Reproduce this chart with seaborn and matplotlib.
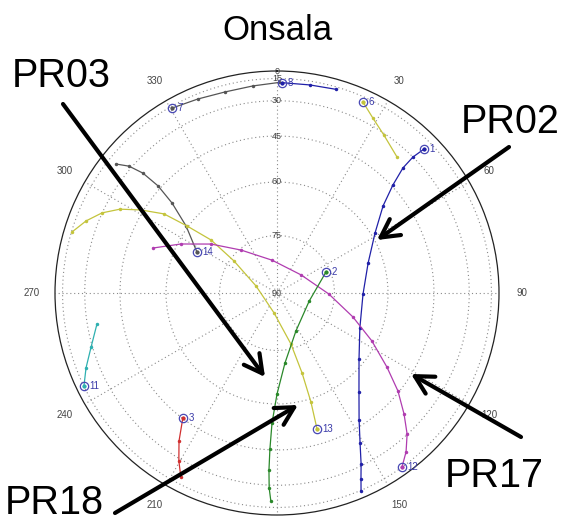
import numpy as np
import pandas as pd
import matplotlib
matplotlib.use("Agg")
import matplotlib.pyplot as plt
import seaborn as sns

sns.set_style("white")
plt.rcParams["font.family"] = ["Liberation Sans", "DejaVu Sans"]

# Satellite tracks (azimuth, elevation in degrees); the first point of each
# track is the one carrying the satellite number.
sat_ids = ["8", "7", "6", "1", "14", "13", "12", "2", "11", "3"]

az_8 = [1.3, 9.0, 16.2]
el_8 = [18.6, 18.4, 17.2]

az_7 = [330.4, 337.8, 345.5, 353.4, 0.5]
el_7 = [16.7, 19.3, 20.7, 20.1, 18.5]

az_6 = [24.2, 28.7, 34.1, 41.4]
el_6 = [19.3, 26.0, 30.8, 35.2]

az_1 = [45.6, 45.0, 45.2, 47.0, 50.6, 58.5, 71.8, 90.7, 112.9, 128.8,
        140.4, 147.1, 151.0, 153.8, 155.7, 157.0]
el_1 = [22.0, 30.0, 36.9, 44.4, 51.8, 58.8, 64.4, 67.2, 66.1, 61.7,
        54.6, 47.1, 39.5, 30.9, 23.2, 14.3]

az_14 = [297.1, 306.4, 310.6, 312.0, 311.8, 310.6, 308.7]
el_14 = [66.1, 59.4, 51.5, 43.9, 35.9, 28.6, 21.7]

az_13 = [163.6, 162.7, 162.6, 164.7, 188.5, 288.4, 306.7, 308.8, 306.7,
         305.0, 301.4, 298.1, 294.6, 290.7, 286.6]
el_13 = [50.3, 59.1, 67.8, 76.2, 84.8, 84.3, 76.0, 67.6, 59.7,
         51.6, 44.1, 36.7, 29.9, 23.2, 15.6]

az_12 = [144.3, 140.9, 137.3, 133.6, 129.0, 124.0, 116.8, 107.5, 91.1,
         53.1, 351.4, 320.1, 306.6, 297.0, 289.9]
el_12 = [15.2, 22.8, 30.2, 37.8, 45.5, 53.3, 61.4, 69.0, 76.5,
         82.2, 81.4, 75.4, 68.3, 60.9, 53.5]

az_2 = [66.8, 104.0, 153.4, 173.5, 180.0, 182.2, 182.6, 182.6, 182.3, 181.7]
el_2 = [76.1, 81.4, 79.0, 71.5, 62.9, 54.1, 45.3, 37.0, 28.5, 20.4]

az_11 = [244.3, 248.6, 253.8, 260.2]
el_11 = [15.2, 22.5, 29.3, 34.6]

az_3 = [217.0, 213.5, 210.3, 207.6]
el_3 = [45.2, 36.9, 28.8, 20.8]

track_colors = {
    "8": "#2020a8", "7": "#555555", "6": "#c4c43c", "1": "#2020a8",
    "14": "#555555", "13": "#c4c43c", "12": "#b03cb0", "2": "#2a882a",
    "11": "#2eb0b0", "3": "#d03030",
}

tracks = {
    "8": (az_8, el_8), "7": (az_7, el_7), "6": (az_6, el_6),
    "1": (az_1, el_1), "14": (az_14, el_14), "13": (az_13, el_13),
    "12": (az_12, el_12), "2": (az_2, el_2), "11": (az_11, el_11),
    "3": (az_3, el_3),
}

elev_rings = [15, 30, 45, 60, 75]
elev_labels = [0, 15, 30, 45, 60, 75, 90]
azim_ticks = list(range(0, 360, 30))
azim_labels = ["", "30", "60", "90", "120", "150", "",
               "210", "240", "270", "300", "330"]

rows = []
for sid in sat_ids:
    az, el = tracks[sid]
    for k, (a, e) in enumerate(zip(az, el)):
        rows.append({"sat": sid, "step": k, "az": a, "el": e})
df = pd.DataFrame(rows)
# orthographic sky projection: radius = cos(elevation)
df["theta"] = np.deg2rad(df["az"])
df["r"] = np.cos(np.deg2rad(df["el"]))

W, H = 562, 522
fig = plt.figure(figsize=(W / 100, H / 100), dpi=100)
ax = fig.add_axes([55 / W, 7 / H, 444 / W, 444 / H], projection="polar")
ax.set_theta_zero_location("N")
ax.set_theta_direction(-1)
ax.set_ylim(0, 1)

ax.set_xticks(np.deg2rad(azim_ticks))
ax.set_xticklabels(azim_labels)
ax.set_yticks(np.cos(np.deg2rad(elev_rings)))
ax.set_yticklabels([])
ax.tick_params(axis="x", pad=6, labelsize=7, labelcolor="#444444")
ax.grid(True, color="#8a8a8a", linestyle=(0, (1, 2.5)), linewidth=0.8)
ax.spines["polar"].set_color("#222222")
ax.spines["polar"].set_linewidth(0.9)

for e in elev_labels:
    ax.text(0, np.cos(np.deg2rad(e)), str(e), ha="center", va="center",
            fontsize=6.5, color="#444444", zorder=3)

sns.lineplot(data=df, x="theta", y="r", hue="sat", palette=track_colors,
             sort=False, estimator=None, marker=".", markersize=5,
             markeredgewidth=0, linewidth=0.9, legend=False, ax=ax)
ax.set_xlabel("")
ax.set_ylabel("")

first = df[df["step"] == 0]
for _, row in first.iterrows():
    ax.plot(row["theta"], row["r"], "o", ms=6, mfc="none", mec="#4848b4",
            mew=0.9, zorder=4)
    ax.plot(row["theta"], row["r"], ".", ms=4, color=track_colors[row["sat"]],
            zorder=5)
    ax.annotate(row["sat"], (row["theta"], row["r"]), xytext=(4, 0),
                textcoords="offset points", fontsize=7, color="#3a3aa8",
                va="center", ha="left", zorder=5)

fig.text(277 / W, 1 - 40 / H, "Onsala", fontsize=25, ha="center",
         va="baseline", color="black")


def fp(x, y):
    return (x / W, 1 - y / H)


callouts = [
    ("PR03", (61, 87), (63, 104), (265, 377)),
    ("PR02", (510, 133), (509, 147), (377, 240)),
    ("PR17", (494, 487), (521, 437), (411, 374)),
    ("PR18", (54, 514), (115, 513), (298, 405)),
]
for name, txt, tail, tip in callouts:
    fig.text(*fp(*txt), name, fontsize=28.5, ha="center", va="baseline",
             color="black")
    ax.annotate("", xy=fp(*tip), xycoords="figure fraction",
                xytext=fp(*tail), textcoords="figure fraction",
                arrowprops=dict(arrowstyle="->,head_length=0.65,head_width=0.35",
                                lw=3, color="black", mutation_scale=20,
                                shrinkA=0, shrinkB=0),
                annotation_clip=False, zorder=6)

fig.savefig("out.png", dpi=100)
